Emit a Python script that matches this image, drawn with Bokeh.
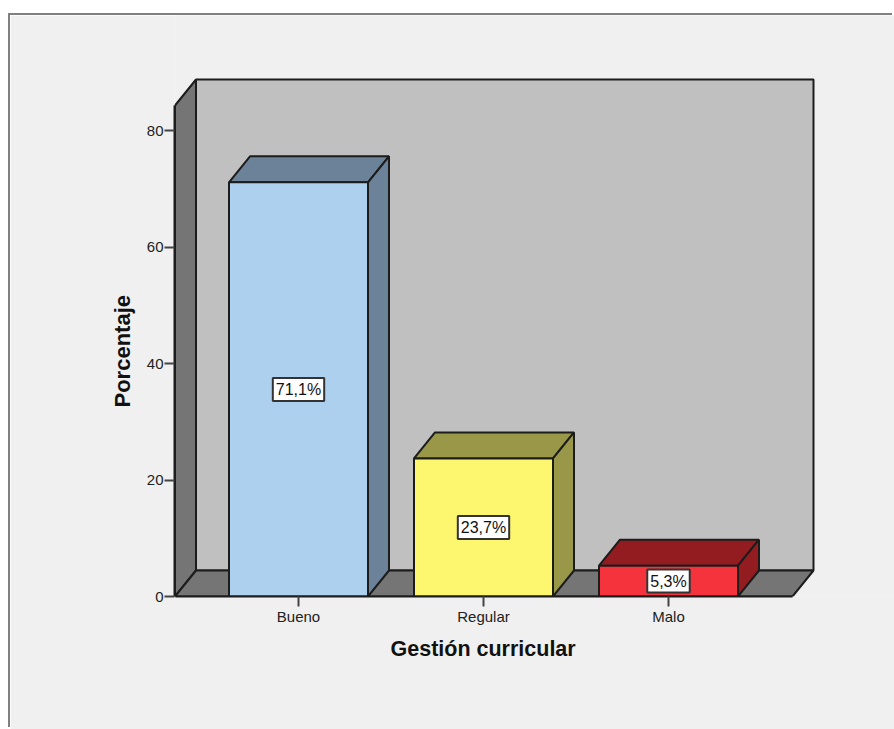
from bokeh.plotting import figure
from bokeh.embed import file_html
from bokeh.resources import INLINE
from bokeh.models import Range1d, FixedTicker, Label, Title

categories = ["Bueno", "Regular", "Malo"]
values = [71.1, 23.7, 5.3]
labels = ["71,1%", "23,7%", "5,3%"]
front_colors = ["#aed0ef", "#fdf76f", "#f4333c"]
dark_colors = ["#6b8299", "#999848", "#931c20"]
y_ticks = [0, 20, 40, 60, 80]

# the figure sits at (10,15) on the page and fills the rest of the window
ML, MT = 10, 15
W, H = 894 - ML, 729 - MT
FRAME_L = 174
PX_X = 185.0   # px per category
PX_Y = 5.825   # px per percent
DX = 21 / PX_X
DY = 26 / PX_Y
HALF = 69.5 / PX_X
X0 = (174.5 - 298) / PX_X
X1 = (792 - 298) / PX_X
YTOP = (596 - 105) / PX_Y
LINE = "#1c1c1c"

p = figure(width=W, height=H, output_backend="svg", toolbar_location=None,
           x_range=Range1d((FRAME_L - 298) / PX_X, (894 - 298) / PX_X),
           y_range=Range1d(0, (596 - MT) / PX_Y),
           min_border_left=FRAME_L - ML, min_border_right=0, min_border_top=0, min_border_bottom=729 - 596,
           border_fill_color="#f0f0f0", background_fill_color="#f0f0f0", outline_line_color=None,
           margin=(MT, 0, 0, ML))
p.styles = {"box-shadow": "-2px -2px 0 0 #808080"}
p.grid.visible = False

xa = p.xaxis[0]
xa.ticker = FixedTicker(ticks=list(range(len(categories))))
xa.major_label_overrides = {i: c for i, c in enumerate(categories)}
xa.bounds = (X0, X1)
xa.major_label_text_font = "Liberation Sans"
xa.major_label_text_font_size = "15px"
xa.major_label_text_color = "#222222"
xa.major_label_standoff = 1
xa.major_tick_out = 10
xa.major_tick_in = 0
xa.minor_tick_line_color = None
xa.axis_line_color = LINE
xa.axis_line_width = 2
xa.major_tick_line_color = "#444444"
xa.major_tick_line_width = 2

ya = p.yaxis[0]
ya.ticker = FixedTicker(ticks=y_ticks)
ya.bounds = (0, YTOP)
ya.major_label_text_font = "Liberation Sans"
ya.major_label_text_font_size = "15px"
ya.major_label_text_color = "#222222"
ya.major_label_standoff = 1
ya.major_tick_out = 10
ya.major_tick_in = 0
ya.minor_tick_line_color = None
ya.axis_line_color = LINE
ya.axis_line_width = 2
ya.major_tick_line_color = "#444444"
ya.major_tick_line_width = 2

# walls and floor
p.patch([X0, X0 + DX, X0 + DX, X0], [0, DY, YTOP + DY, YTOP], fill_color="#757575", line_color=LINE, line_width=2)
p.patch([X0 + DX, X1 + DX, X1 + DX, X0 + DX], [DY, DY, YTOP + DY, YTOP + DY], fill_color="#c0c0c0", line_color=LINE, line_width=2)
p.patch([X0, X1, X1 + DX, X0 + DX], [0, 0, DY, DY], fill_color="#757575", line_color=LINE, line_width=2)

# bars
for i, v in enumerate(values):
    l, r = i - HALF, i + HALF
    p.patch([l, l + DX, r + DX, r], [v, v + DY, v + DY, v], fill_color=dark_colors[i], line_color=LINE, line_width=2)
    p.patch([r, r + DX, r + DX, r], [0, DY, v + DY, v], fill_color=dark_colors[i], line_color=LINE, line_width=2)
    p.patch([l, r, r, l], [0, 0, v, v], fill_color=front_colors[i], line_color=LINE, line_width=2)
    p.add_layout(Label(x=i, y=v / 2, text=labels[i], text_align="center", text_baseline="middle",
                       text_font="Liberation Sans", text_font_size="16px", text_color="#111111",
                       background_fill_color="white", border_line_color="#333333", border_line_width=2,
                       padding=3))

# axis titles placed along the front edges of the box
p.add_layout(Title(text="Gestión curricular", align="left", offset=390 - FRAME_L, standoff=15,
                   text_font="Liberation Sans", text_font_style="bold", text_font_size="21.5px",
                   text_color="#111111"), "below")
p.add_layout(Title(text="Porcentaje", align="left", offset=596 - 407, standoff=18,
                   text_font="Liberation Sans", text_font_style="bold", text_font_size="22px",
                   text_color="#111111"), "left")

open("out.html", "w").write(file_html(p, INLINE))
